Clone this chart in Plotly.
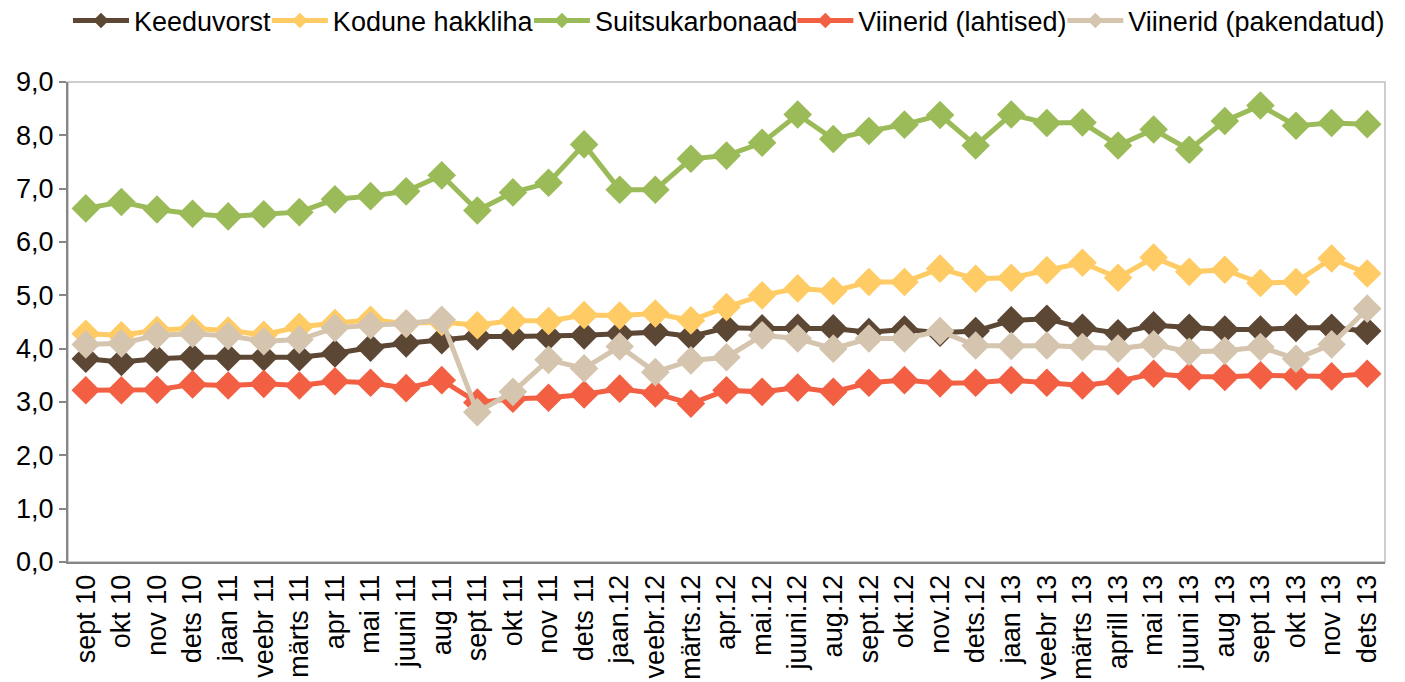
import plotly.graph_objects as go

# Monthly average prices (EUR/kg)
months = [
    "sept 10", "okt 10", "nov 10", "dets 10", "jaan 11", "veebr 11", "märts 11",
    "apr 11", "mai 11", "juuni 11", "aug 11", "sept 11", "okt 11", "nov 11",
    "dets 11", "jaan.12", "veebr.12", "märts.12", "apr.12", "mai.12", "juuni.12",
    "aug.12", "sept.12", "okt.12", "nov.12", "dets.12", "jaan 13", "veebr 13",
    "märts 13", "aprill 13", "mai 13", "juuni 13", "aug 13", "sept 13", "okt 13",
    "nov 13", "dets 13",
]

keeduvorst = [
    3.81, 3.75, 3.81, 3.84, 3.84, 3.84, 3.84, 3.91, 4.02, 4.10, 4.16, 4.23, 4.23,
    4.23, 4.25, 4.28, 4.31, 4.23, 4.39, 4.38, 4.39, 4.38, 4.31, 4.36, 4.30, 4.33,
    4.53, 4.56, 4.39, 4.29, 4.44, 4.39, 4.36, 4.36, 4.39, 4.39, 4.33,
]
kodune_hakkliha = [
    4.28, 4.25, 4.35, 4.38, 4.34, 4.26, 4.41, 4.48, 4.54, 4.47, 4.50, 4.44, 4.53,
    4.52, 4.63, 4.62, 4.66, 4.53, 4.78, 5.00, 5.13, 5.08, 5.25, 5.25, 5.50, 5.31,
    5.33, 5.47, 5.61, 5.33, 5.71, 5.44, 5.48, 5.23, 5.25, 5.69, 5.41,
]
suitsukarbonaad = [
    6.63, 6.75, 6.61, 6.53, 6.48, 6.52, 6.56, 6.80, 6.86, 6.95, 7.25, 6.59, 6.93,
    7.11, 7.83, 6.98, 6.98, 7.56, 7.62, 7.86, 8.39, 7.93, 8.08, 8.20, 8.38, 7.81,
    8.39, 8.23, 8.24, 7.81, 8.11, 7.73, 8.27, 8.56, 8.18, 8.23, 8.21,
]
viinerid_lahtised = [
    3.22, 3.22, 3.23, 3.33, 3.31, 3.34, 3.31, 3.39, 3.36, 3.26, 3.41, 2.99, 3.06,
    3.08, 3.14, 3.25, 3.16, 2.97, 3.22, 3.19, 3.27, 3.19, 3.36, 3.41, 3.35, 3.36,
    3.41, 3.36, 3.31, 3.39, 3.53, 3.48, 3.47, 3.50, 3.48, 3.48, 3.53,
]
viinerid_pakendatud = [
    4.08, 4.10, 4.25, 4.28, 4.24, 4.14, 4.17, 4.39, 4.44, 4.47, 4.54, 2.81, 3.19,
    3.79, 3.63, 4.04, 3.56, 3.78, 3.84, 4.25, 4.19, 4.00, 4.19, 4.19, 4.33, 4.06,
    4.05, 4.06, 4.03, 4.00, 4.08, 3.94, 3.96, 4.03, 3.81, 4.08, 4.75,
]

series = [
    ("Keeduvorst", keeduvorst, "#5C4634"),
    ("Kodune hakkliha", kodune_hakkliha, "#FFCB65"),
    ("Suitsukarbonaad", suitsukarbonaad, "#9BBB59"),
    ("Viinerid (lahtised)", viinerid_lahtised, "#F25F42"),
    ("Viinerid (pakendatud)", viinerid_pakendatud, "#D5C5AE"),
]

y_ticks = [0, 1, 2, 3, 4, 5, 6, 7, 8, 9]

FONT = "Liberation Sans, Arial, sans-serif"
FS = 27

# legend row: one single-entry legend per series, laid out left to right
legend_x = [0.0, 0.151, 0.350, 0.550, 0.755]

fig = go.Figure()
for i, (name, values, color) in enumerate(series):
    fig.add_trace(go.Scatter(
        x=months, y=values, name=name, mode="lines+markers",
        line=dict(color=color, width=5),
        marker=dict(symbol="diamond", size=22, color=color),
        legend="legend" if i == 0 else f"legend{i + 1}",
    ))

# light frame around the plot area
fig.add_shape(type="rect", xref="paper", yref="paper", x0=0, x1=1, y0=0, y1=1,
              line=dict(color="#BFBFBF", width=1.5), layer="below")

legend_common = dict(
    orientation="h", xanchor="left", yanchor="middle",
    yref="container", y=1 - 21 / 682,
    font=dict(size=FS), itemwidth=56, itemsizing="constant",
    bgcolor="rgba(0,0,0,0)", borderwidth=0,
)
legends = {}
for i, lx in enumerate(legend_x):
    key = "legend" if i == 0 else f"legend{i + 1}"
    legends[key] = dict(legend_common, x=lx)

fig.update_layout(
    width=1405, height=682,
    margin=dict(l=68, r=20, t=82, b=120, autoexpand=False),
    paper_bgcolor="white", plot_bgcolor="white",
    separators=", ",
    font=dict(family=FONT, size=FS, color="black"),
    showlegend=True,
    xaxis=dict(
        type="category", categoryorder="array", categoryarray=months,
        range=[-0.5, len(months) - 0.5], automargin=False,
        tickangle=-90, showgrid=False, zeroline=False,
        showline=True, linecolor="#868686", linewidth=2,
        ticks="", tickfont=dict(size=FS),
    ),
    yaxis=dict(
        range=[0, 9], tickvals=y_ticks, tickformat=".1f", automargin=False,
        showgrid=False, zeroline=False,
        showline=True, linecolor="#868686", linewidth=2,
        ticks="outside", ticklen=7, tickcolor="#868686", tickwidth=2,
        tickfont=dict(size=FS),
    ),
    **legends,
)

fig.write_html("out.html")
